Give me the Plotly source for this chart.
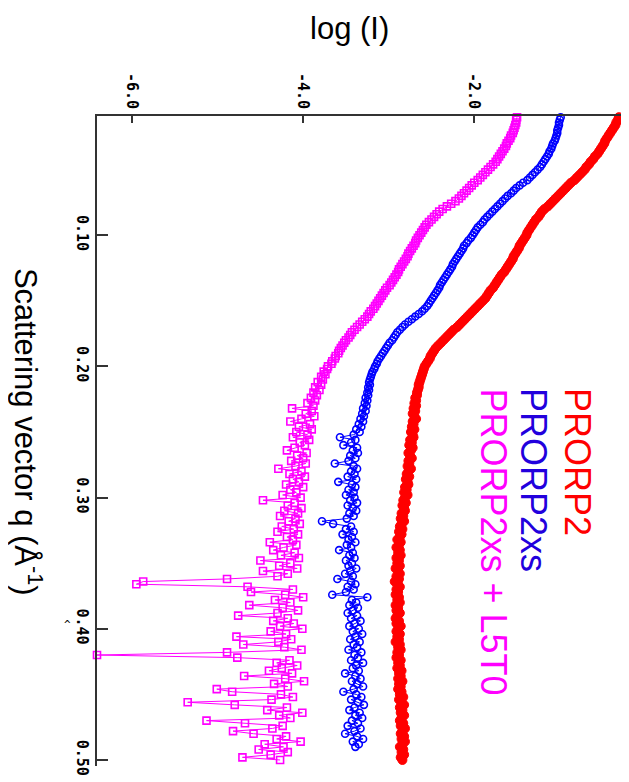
import plotly.graph_objects as go

# Scattering vector q (1/Angstrom), shared sampling
Q = [
    0.010, 0.012, 0.014, 0.016, 0.018, 0.020, 0.022, 0.024, 0.026, 0.028,
    0.030, 0.032, 0.034, 0.036, 0.038, 0.040, 0.042, 0.044, 0.046, 0.048,
    0.050, 0.052, 0.054, 0.056, 0.058, 0.060, 0.062, 0.064, 0.066, 0.068,
    0.070, 0.072, 0.074, 0.076, 0.078, 0.080, 0.082, 0.084, 0.086, 0.088,
    0.090, 0.092, 0.094, 0.096, 0.098, 0.100, 0.102, 0.104, 0.106, 0.108,
    0.110, 0.112, 0.114, 0.116, 0.118, 0.120, 0.122, 0.124, 0.126, 0.128,
    0.130, 0.132, 0.134, 0.136, 0.138, 0.140, 0.142, 0.144, 0.146, 0.148,
    0.150, 0.152, 0.154, 0.156, 0.158, 0.160, 0.162, 0.164, 0.166, 0.168,
    0.170, 0.172, 0.174, 0.176, 0.178, 0.180, 0.182, 0.184, 0.186, 0.188,
    0.190, 0.192, 0.194, 0.196, 0.198, 0.200, 0.202, 0.204, 0.206, 0.208,
    0.210, 0.212, 0.214, 0.216, 0.218, 0.220, 0.222, 0.224, 0.226, 0.228,
    0.230, 0.232, 0.234, 0.236, 0.238, 0.240, 0.242, 0.244, 0.246, 0.248,
    0.250, 0.252, 0.254, 0.256, 0.258, 0.260, 0.262, 0.264, 0.266, 0.268,
    0.270, 0.272, 0.274, 0.276, 0.278, 0.280, 0.282, 0.284, 0.286, 0.288,
    0.290, 0.292, 0.294, 0.296, 0.298, 0.300, 0.302, 0.304, 0.306, 0.308,
    0.310, 0.312, 0.314, 0.316, 0.318, 0.320, 0.322, 0.324, 0.326, 0.328,
    0.330, 0.332, 0.334, 0.336, 0.338, 0.340, 0.342, 0.344, 0.346, 0.348,
    0.350, 0.352, 0.354, 0.356, 0.358, 0.360, 0.362, 0.364, 0.366, 0.368,
    0.370, 0.372, 0.374, 0.376, 0.378, 0.380, 0.382, 0.384, 0.386, 0.388,
    0.390, 0.392, 0.394, 0.396, 0.398, 0.400, 0.402, 0.404, 0.406, 0.408,
    0.410, 0.412, 0.414, 0.416, 0.418, 0.420, 0.422, 0.424, 0.426, 0.428,
    0.430, 0.432, 0.434, 0.436, 0.438, 0.440, 0.442, 0.444, 0.446, 0.448,
    0.450, 0.452, 0.454, 0.456, 0.458, 0.460, 0.462, 0.464, 0.466, 0.468,
    0.470, 0.472, 0.474, 0.476, 0.478, 0.480, 0.482, 0.484, 0.486, 0.488,
    0.490, 0.492, 0.494, 0.496, 0.498, 0.500,
]

# log(I) for PRORP2
PRORP2 = [
    -0.31, -0.32, -0.34, -0.35, -0.37, -0.39, -0.41, -0.43, -0.45, -0.47,
    -0.48, -0.50, -0.52, -0.54, -0.56, -0.59, -0.61, -0.64, -0.66, -0.69,
    -0.71, -0.74, -0.77, -0.80, -0.83, -0.87, -0.90, -0.93, -0.96, -0.99,
    -1.02, -1.05, -1.08, -1.11, -1.14, -1.18, -1.21, -1.23, -1.25, -1.28,
    -1.30, -1.32, -1.34, -1.36, -1.38, -1.39, -1.41, -1.43, -1.45, -1.47,
    -1.48, -1.50, -1.52, -1.54, -1.55, -1.57, -1.59, -1.61, -1.63, -1.65,
    -1.68, -1.70, -1.72, -1.74, -1.76, -1.78, -1.81, -1.83, -1.85, -1.87,
    -1.90, -1.93, -1.96, -1.99, -2.02, -2.05, -2.08, -2.11, -2.14, -2.17,
    -2.20, -2.24, -2.27, -2.30, -2.33, -2.36, -2.39, -2.42, -2.45, -2.47,
    -2.49, -2.51, -2.52, -2.54, -2.56, -2.58, -2.59, -2.60, -2.61, -2.62,
    -2.63, -2.64, -2.65, -2.65, -2.66, -2.67, -2.67, -2.69, -2.68, -2.70,
    -2.68, -2.71, -2.69, -2.72, -2.70, -2.68, -2.72, -2.71, -2.73, -2.70,
    -2.74, -2.72, -2.71, -2.75, -2.73, -2.76, -2.72, -2.74, -2.77, -2.75,
    -2.73, -2.77, -2.76, -2.78, -2.74, -2.77, -2.79, -2.76, -2.80, -2.78,
    -2.77, -2.81, -2.79, -2.82, -2.78, -2.81, -2.83, -2.80, -2.84, -2.82,
    -2.81, -2.85, -2.83, -2.86, -2.82, -2.85, -2.87, -2.84, -2.88, -2.85,
    -2.87, -2.90, -2.86, -2.88, -2.91, -2.87, -2.89, -2.86, -2.91, -2.88,
    -2.90, -2.87, -2.92, -2.89, -2.87, -2.91, -2.88, -2.93, -2.89, -2.87,
    -2.91, -2.89, -2.92, -2.88, -2.90, -2.87, -2.92, -2.89, -2.91, -2.87,
    -2.90, -2.92, -2.88, -2.91, -2.86, -2.89, -2.91, -2.87, -2.90, -2.88,
    -2.92, -2.87, -2.89, -2.86, -2.90, -2.88, -2.91, -2.86, -2.89, -2.87,
    -2.90, -2.85, -2.88, -2.86, -2.89, -2.84, -2.88, -2.86, -2.89, -2.85,
    -2.87, -2.83, -2.88, -2.85, -2.82, -2.87, -2.84, -2.86, -2.82, -2.85,
    -2.87, -2.83, -2.86, -2.81, -2.84, -2.86, -2.82, -2.85, -2.81, -2.84,
    -2.87, -2.83, -2.85, -2.82, -2.86, -2.84,
]

# log(I) for PRORP2xs
PRORP2XS = [
    -0.99, -1.00, -1.01, -1.01, -1.02, -1.03, -1.03, -1.04, -1.05, -1.06,
    -1.08, -1.09, -1.10, -1.12, -1.13, -1.15, -1.17, -1.19, -1.21, -1.23,
    -1.26, -1.29, -1.32, -1.35, -1.38, -1.43, -1.47, -1.51, -1.54, -1.57,
    -1.61, -1.64, -1.67, -1.70, -1.73, -1.76, -1.79, -1.82, -1.85, -1.88,
    -1.90, -1.93, -1.96, -1.98, -2.00, -2.02, -2.04, -2.07, -2.09, -2.12,
    -2.13, -2.15, -2.17, -2.19, -2.21, -2.23, -2.25, -2.26, -2.28, -2.30,
    -2.32, -2.34, -2.36, -2.38, -2.40, -2.41, -2.43, -2.45, -2.47, -2.49,
    -2.51, -2.53, -2.55, -2.58, -2.61, -2.65, -2.69, -2.73, -2.77, -2.81,
    -2.84, -2.87, -2.90, -2.92, -2.94, -2.96, -2.99, -3.01, -3.03, -3.05,
    -3.07, -3.09, -3.11, -3.13, -3.14, -3.16, -3.17, -3.19, -3.20, -3.21,
    -3.22, -3.23, -3.22, -3.24, -3.23, -3.25, -3.24, -3.27, -3.25, -3.28,
    -3.26, -3.30, -3.27, -3.31, -3.29, -3.33, -3.30, -3.35, -3.32, -3.38,
    -3.34, -3.41, -3.57, -3.39, -3.44, -3.53, -3.37, -3.42, -3.36, -3.45,
    -3.39, -3.47, -3.63, -3.41, -3.37, -3.44, -3.40, -3.48, -3.38, -3.59,
    -3.43, -3.39, -3.47, -3.41, -3.50, -3.40, -3.45, -3.37, -3.48, -3.42,
    -3.38, -3.46, -3.41, -3.49, -3.78, -3.65, -3.44, -3.50, -3.41, -3.54,
    -3.43, -3.47, -3.39, -3.49, -3.44, -3.58, -3.42, -3.46, -3.40, -3.50,
    -3.43, -3.47, -3.38, -3.45, -3.51, -3.42, -3.60, -3.44, -3.39, -3.48,
    -3.41, -3.50, -3.66, -3.25, -3.43, -3.38, -3.46, -3.36, -3.42, -3.48,
    -3.37, -3.44, -3.33, -3.40, -3.46, -3.35, -3.42, -3.31, -3.39, -3.45,
    -3.34, -3.41, -3.37, -3.47, -3.32, -3.40, -3.36, -3.44, -3.30, -3.38,
    -3.42, -3.35, -3.51, -3.39, -3.33, -3.43, -3.37, -3.30, -3.41, -3.53,
    -3.38, -3.32, -3.44, -3.36, -3.29, -3.40, -3.46, -3.34, -3.39, -3.31,
    -3.43, -3.36, -3.48, -3.33, -3.40, -3.51, -3.37, -3.30, -3.42, -3.35,
    -3.39,
]

# log(I) for PRORP2xs + L5T0
PRORP2XS_L5T0 = [
    -1.50, -1.51, -1.51, -1.52, -1.53, -1.54, -1.55, -1.57, -1.58, -1.60,
    -1.62, -1.63, -1.65, -1.67, -1.69, -1.71, -1.73, -1.75, -1.78, -1.81,
    -1.84, -1.87, -1.90, -1.93, -1.96, -2.00, -2.03, -2.06, -2.09, -2.12,
    -2.15, -2.18, -2.22, -2.27, -2.32, -2.37, -2.41, -2.44, -2.47, -2.50,
    -2.53, -2.56, -2.58, -2.60, -2.62, -2.64, -2.66, -2.68, -2.69, -2.71,
    -2.73, -2.75, -2.77, -2.78, -2.80, -2.82, -2.84, -2.86, -2.88, -2.89,
    -2.91, -2.93, -2.95, -2.97, -2.99, -3.02, -3.04, -3.06, -3.08, -3.10,
    -3.12, -3.14, -3.16, -3.18, -3.21, -3.23, -3.25, -3.28, -3.31, -3.34,
    -3.37, -3.40, -3.43, -3.45, -3.47, -3.50, -3.52, -3.54, -3.56, -3.58,
    -3.59, -3.62, -3.63, -3.66, -3.67, -3.71, -3.72, -3.76, -3.74, -3.79,
    -3.77, -3.83, -3.79, -3.86, -3.81, -3.88, -3.84, -3.91, -3.86, -3.95,
    -3.88, -4.13, -3.90, -3.97, -3.87, -4.02, -4.15, -3.92, -4.05, -3.90,
    -4.08, -3.95, -4.12, -3.93, -4.04, -3.98, -4.10, -4.19, -3.96, -4.07,
    -4.00, -4.14, -3.97, -4.09, -4.29, -4.02, -4.16, -3.98, -4.12, -4.05,
    -4.20, -4.00, -4.15, -4.08, -4.24, -4.03, -4.47, -4.10, -4.18, -4.02,
    -4.22, -4.06, -4.27, -4.09, -4.17, -4.04, -4.25, -4.11, -4.30, -4.06,
    -4.19, -4.12, -4.39, -4.08, -4.23, -4.35, -4.10, -4.26, -4.05, -4.50,
    -4.15, -4.28, -4.07, -4.47, -4.18, -4.30, -4.89, -5.87, -5.95, -4.65,
    -4.12, -4.61, -4.21, -4.00, -4.33, -4.15, -4.63, -4.24, -4.06, -4.30,
    -4.76, -4.18, -4.35, -4.11, -4.27, -4.01, -4.38, -4.20, -4.78, -4.14,
    -4.29, -4.70, -4.22, -4.02, -4.89, -6.41, -4.77, -4.16, -4.31, -4.07,
    -4.25, -4.40, -4.13, -4.69, -4.21, -3.99, -4.34, -4.18, -5.01, -4.83,
    -4.26, -4.12, -4.37, -5.35, -4.80, -4.19, -4.42, -4.01, -4.28, -4.15,
    -5.13, -4.68, -4.24, -4.36, -4.82, -4.58, -4.20, -4.31, -4.03, -4.45,
    -4.23, -4.52, -4.18, -4.38, -4.71, -4.27,
]

X_TICKS = [-6.0, -4.0, -2.0]
X_TICK_TEXT = ["-6.0", "-4.0", "-2.0"]
Y_TICKS = [0.10, 0.20, 0.30, 0.40, 0.50]
Y_TICK_TEXT = ["0.10", "0.20", "0.30", "0.40", "0.50"]

fig = go.Figure()

fig.add_trace(go.Scatter(
    x=PRORP2, y=Q[:len(PRORP2)], mode="lines+markers", name="PRORP2",
    line=dict(color="#ff0000", width=1),
    marker=dict(symbol="circle", size=9, color="#ff0000",
                line=dict(color="#ff0000", width=1)),
    cliponaxis=False,
))
fig.add_trace(go.Scatter(
    x=PRORP2XS, y=Q[:len(PRORP2XS)], mode="lines+markers", name="PRORP2xs",
    line=dict(color="#0000ff", width=1),
    marker=dict(symbol="circle-open", size=7, color="#0000ff",
                line=dict(color="#0000ff", width=1.6)),
    cliponaxis=False,
))
fig.add_trace(go.Scatter(
    x=PRORP2XS_L5T0, y=Q[:len(PRORP2XS_L5T0)], mode="lines+markers",
    name="PRORP2xs + L5T0",
    line=dict(color="#ff00ff", width=1),
    marker=dict(symbol="square-open", size=7, color="#ff00ff",
                line=dict(color="#ff00ff", width=1.6)),
    cliponaxis=False,
))

tickfont = dict(family="DejaVu Sans Mono", size=15, color="#000000", weight="bold")

# The page body adds an 8 px offset, so the figure is 8 px smaller
fig.update_layout(
    width=621, height=774,
    margin=dict(l=89, r=5, t=108, b=16, autoexpand=False),
    paper_bgcolor="white", plot_bgcolor="white",
    showlegend=False,
    xaxis=dict(
        range=[-6.41, -0.25], side="top", automargin=False,
        tickvals=X_TICKS, ticktext=X_TICK_TEXT, tickangle=90,
        ticks="inside", ticklen=7, tickwidth=1.5, tickcolor="#333333",
        showline=True, linecolor="#333333", linewidth=1.5, mirror=False,
        showgrid=False, zeroline=False, tickfont=tickfont,
    ),
    yaxis=dict(
        range=[0.5046, 0.0091], automargin=False,
        tickvals=Y_TICKS, ticktext=Y_TICK_TEXT, tickangle=90,
        ticks="inside", ticklen=11, tickwidth=1.5, tickcolor="#333333",
        showline=True, linecolor="#333333", linewidth=1.5, mirror=False,
        showgrid=False, zeroline=False, tickfont=tickfont,
    ),
)

title_font = dict(family="Liberation Sans", size=31, color="#000000")
fig.add_annotation(text="log (I)", xref="paper", yref="paper",
                   x=0.48, y=1.135, showarrow=False, font=title_font,
                   xanchor="center", yanchor="middle")
fig.add_annotation(text="Scattering vector q (Å<sup>-1</sup>)", xref="paper", yref="paper",
                   x=-0.131, y=0.514, showarrow=False, font=title_font,
                   textangle=90, xanchor="center", yanchor="middle")
fig.add_annotation(text="^", xref="paper", yref="paper",
                   x=-0.066, y=0.205, showarrow=False,
                   font=dict(family="DejaVu Sans Mono", size=11, color="#000000"))

leg_font = 36
for label, color, px in [("PRORP2", "#ff0000", 578),
                         ("PRORP2xs", "#2200dd", 534),
                         ("PRORP2xs + L5T0", "#ff00ff", 493)]:
    fig.add_annotation(text=label, xref="paper", yref="paper",
                       x=(px - 97) / 527, y=1 - (386 - 116) / 650,
                       showarrow=False, textangle=90,
                       font=dict(family="Liberation Sans", size=leg_font, color=color),
                       xanchor="center", yanchor="top")

fig.write_html("out.html")
